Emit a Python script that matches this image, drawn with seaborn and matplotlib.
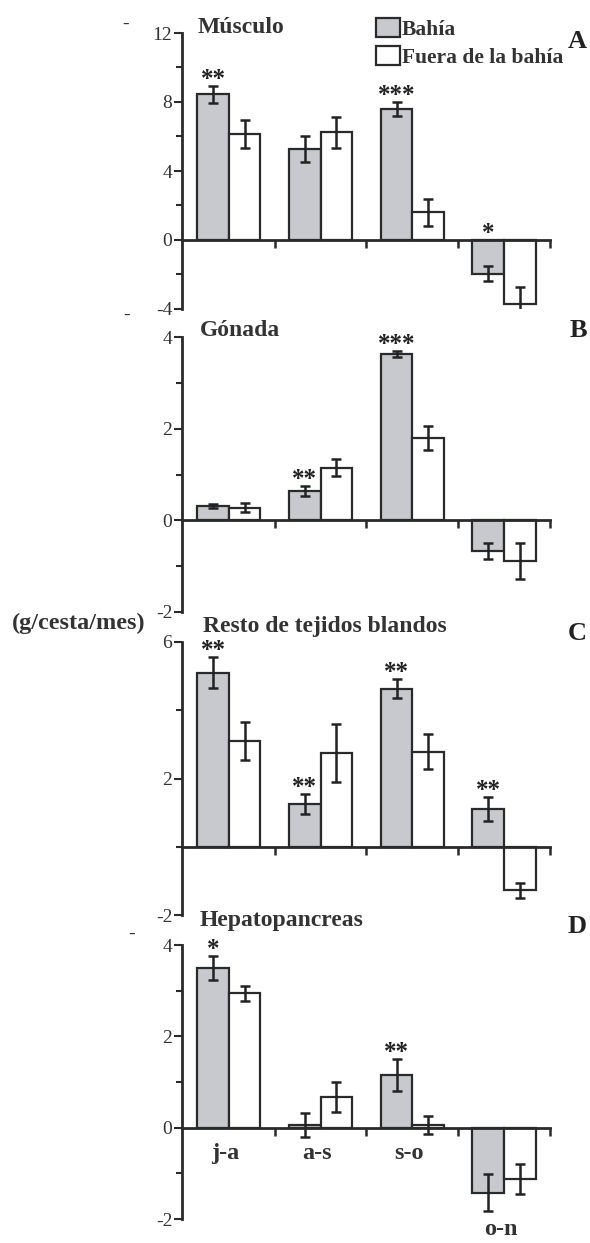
import numpy as np
import pandas as pd
import matplotlib
matplotlib.use('Agg')
import matplotlib.pyplot as plt
import seaborn as sns

# categories and series
periods = ['j-a', 'a-s', 's-o', 'o-n']
sites = ['Bahía', 'Fuera de la bahía']

musculo_bahia = [8.45, 5.25, 7.6, -1.95]
musculo_bahia_se = [0.5, 0.75, 0.4, 0.45]
musculo_fuera = [6.15, 6.25, 1.6, -3.7]
musculo_fuera_se = [0.8, 0.9, 0.8, 1.0]
musculo_stars = ['**', '', '***', '*']

gonada_bahia = [0.31, 0.64, 3.63, -0.67]
gonada_bahia_se = [0.05, 0.11, 0.07, 0.18]
gonada_fuera = [0.28, 1.15, 1.79, -0.88]
gonada_fuera_se = [0.1, 0.18, 0.26, 0.39]
gonada_stars = ['', '**', '***', '']

resto_bahia = [5.1, 1.26, 4.63, 1.11]
resto_bahia_se = [0.46, 0.3, 0.28, 0.35]
resto_fuera = [3.09, 2.75, 2.79, -1.27]
resto_fuera_se = [0.56, 0.86, 0.51, 0.22]
resto_stars = ['**', '**', '**', '**']

hepato_bahia = [3.5, 0.06, 1.15, -1.42]
hepato_bahia_se = [0.26, 0.26, 0.35, 0.4]
hepato_fuera = [2.94, 0.67, 0.06, -1.12]
hepato_fuera_se = [0.17, 0.33, 0.2, 0.33]
hepato_stars = ['*', '', '**', '']

GREY = '#c8c9ce'
EDGE = '#2a2a2a'
W, H = 590, 1243

sns.set_style('ticks')
plt.rcParams['font.family'] = ['Liberation Serif', 'DejaVu Serif']

fig = plt.figure(figsize=(W / 100, H / 100), dpi=100)

def px_rect(top, bottom, left=182, right=550):
    return [left / W, 1 - bottom / H, (right - left) / W, (bottom - top) / H]

panels = [
    dict(title='Músculo', letter='A', b=musculo_bahia, bse=musculo_bahia_se,
         f=musculo_fuera, fse=musculo_fuera_se, stars=musculo_stars,
         ylim=(-4, 12), major=[-4, 0, 4, 8, 12], minor=[-2, 2, 6, 10],
         top=33, bottom=309, tx=198, ty=33, ly=48),
    dict(title='Gónada', letter='B', b=gonada_bahia, bse=gonada_bahia_se,
         f=gonada_fuera, fse=gonada_fuera_se, stars=gonada_stars,
         ylim=(-2, 4), major=[-2, 0, 2, 4], minor=[-1, 1, 3],
         top=337, bottom=612, tx=200, ty=336, ly=337),
    dict(title='Resto de tejidos blandos', letter='C', b=resto_bahia, bse=resto_bahia_se,
         f=resto_fuera, fse=resto_fuera_se, stars=resto_stars,
         ylim=(-2, 6), major=[-2, 2, 6], minor=[0, 4],
         top=642, bottom=915, tx=203, ty=632, ly=640),
    dict(title='Hepatopancreas', letter='D', b=hepato_bahia, bse=hepato_bahia_se,
         f=hepato_fuera, fse=hepato_fuera_se, stars=hepato_stars,
         ylim=(-2, 4), major=[-2, 0, 2, 4], minor=[-1, 1, 3],
         top=945, bottom=1219, tx=200, ty=926, ly=933),
]

for i, p in enumerate(panels):
    ax = fig.add_axes(px_rect(p['top'], p['bottom']))
    df = pd.DataFrame({'periodo': periods * 2,
                       'sitio': [sites[0]] * 4 + [sites[1]] * 4,
                       'valor': p['b'] + p['f']})
    sns.barplot(data=df, x='periodo', y='valor', hue='sitio', order=periods,
                hue_order=sites, palette={sites[0]: GREY, sites[1]: 'white'},
                width=0.69, gap=0, saturation=1, edgecolor=EDGE, linewidth=1.6,
                errorbar=None, legend=(i == 0), ax=ax)

    # error bars and significance stars
    for cont, vals, ses in zip(ax.containers, [p['b'], p['f']], [p['bse'], p['fse']]):
        xs = [bar.get_x() + bar.get_width() / 2 for bar in cont]
        ax.errorbar(xs, vals, yerr=ses, fmt='none', ecolor='#222222', elinewidth=1.8,
                    capsize=3.8, capthick=1.8, zorder=4)
    xs_b = [bar.get_x() + bar.get_width() / 2 for bar in ax.containers[0]]
    for x, v, s, st in zip(xs_b, p['b'], p['bse'], p['stars']):
        if st:
            ax.annotate(st, (x, max(v + s, 0)), xytext=(0, 0), textcoords='offset points',
                        ha='center', va='baseline', fontsize=18, fontweight='bold',
                        color='#222222')

    ax.set_xlim(-0.51, 3.5)
    ax.set_ylim(*p['ylim'])
    ax.set_xlabel('')
    ax.set_ylabel('')
    sns.despine(ax=ax)
    ax.spines['bottom'].set_position(('data', 0))
    for side in ['left', 'bottom']:
        ax.spines[side].set_linewidth(2)
        ax.spines[side].set_color(EDGE)
        ax.spines[side].set_zorder(5)
    ax.set_xticks([0.5, 1.5, 2.5, 3.5])
    ax.set_xticklabels([])
    ax.set_yticks(p['major'])
    ax.set_yticklabels([str(t) for t in p['major']])
    ax.set_yticks(p['minor'], minor=True)
    ax.tick_params(axis='x', direction='out', length=6, width=1.8, color=EDGE)
    ax.tick_params(axis='y', which='major', direction='out', length=6, width=1.5,
                   color=EDGE, labelsize=14, labelcolor='#333333', pad=1)
    ax.tick_params(axis='y', which='minor', direction='out', length=4, width=1.5, color=EDGE)

    fig.text(p['tx'] / W, 1 - p['ty'] / H, p['title'], fontsize=17, fontweight='bold',
             color='#333333', va='baseline', ha='left')
    fig.text(587 / W, 1 - p['ly'] / H, p['letter'], fontsize=19, fontweight='bold',
             color='#222222', va='baseline', ha='right')

    if i == 0:
        sns.move_legend(ax, loc='upper left', bbox_to_anchor=(376 / W, 1 - 18 / H),
                        bbox_transform=fig.transFigure, frameon=False, title=None,
                        handlelength=1.1, handleheight=0.95, handletextpad=0.1,
                        labelspacing=0.3, borderpad=0, borderaxespad=0,
                        prop={'family': 'Liberation Serif', 'weight': 'bold', 'size': 15.5})
        for t in ax.get_legend().get_texts():
            t.set_color('#333333')

    if i == 3:
        for k, lab in enumerate(periods):
            ly = -2.36 if k == 3 else -0.68
            ax.text(k - 0.04, ly, lab, ha='center', va='baseline', fontsize=17.5,
                    fontweight='bold', color='#333333', clip_on=False)

fig.text(12 / W, 1 - 623 / H, '(g/cesta/mes)', fontsize=17.5, fontweight='bold',
         color='#333333', va='center', ha='left')

# stray dashes present in the original figure
for dx, dy in [(126, 24), (127, 315), (132, 934)]:
    fig.text(dx / W, 1 - dy / H, '-', fontsize=14, color='#333333', ha='center', va='center')

fig.savefig('out.png', dpi=100)
